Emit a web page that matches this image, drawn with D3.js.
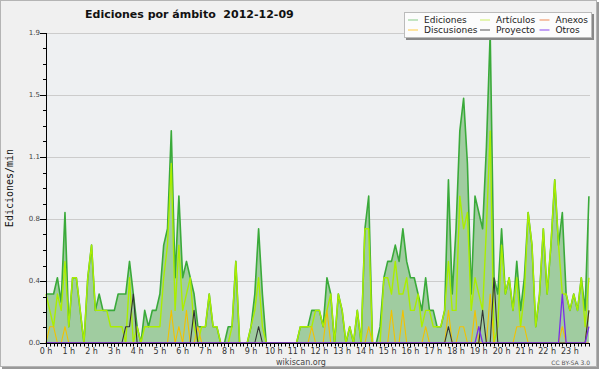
<!DOCTYPE html>
<html>
<head>
<meta charset="utf-8">
<script src="https://cdn.jsdelivr.net/npm/d3@7"></script>
<style>
  body { margin: 0; background: #fff; }
  svg { display: block; }
  text { font-family: "DejaVu Sans", sans-serif; }
</style>
</head>
<body>
<div class="canvas"></div>
<script>
// valores cada 10 minutos (6 por hora), en ediciones/min
const ediciones = [
  0.3, 0.3, 0.3, 0.4, 0.25, 0.8,   // 0 h
  0.1, 0.4, 0.4, 0.2, 0, 0.4,      // 1 h
  0.6, 0.2, 0.3, 0.2, 0.2, 0.2,    // 2 h
  0.2, 0.3, 0.3, 0.3, 0.5, 0.3,    // 3 h
  0.1, 0, 0.2, 0.1, 0.2, 0.2,      // 4 h
  0.3, 0.6, 0.7, 1.3, 0.4, 0.9,    // 5 h
  0.4, 0.5, 0.4, 0.3, 0.1, 0.1,    // 6 h
  0.1, 0.3, 0.1, 0.1, 0, 0,        // 7 h
  0.1, 0.1, 0.5, 0, 0, 0,          // 8 h
  0.1, 0.3, 0.7, 0.3, 0, 0,        // 9 h
  0, 0, 0, 0, 0, 0,                // 10 h
  0, 0.1, 0.1, 0.1, 0.2, 0.2,      // 11 h
  0.2, 0.1, 0.4, 0.3, 0, 0.3,      // 12 h
  0.2, 0, 0.1, 0, 0.2, 0,          // 13 h
  0.7, 0.9, 0, 0, 0.1, 0.4,        // 14 h
  0.5, 0.5, 0.6, 0.5, 0.7, 0.5,    // 15 h
  0.4, 0.4, 0.3, 0.2, 0.4, 0.2,    // 16 h
  0.2, 0.1, 0.1, 0.2, 1.0, 0.3,    // 17 h
  0.7, 1.3, 1.5, 1.1, 0.3, 0.9,    // 18 h
  0.8, 0.7, 1.2, 1.9, 0.4, 0.3,    // 19 h
  0.7, 0.3, 0.4, 0.2, 0.5, 0.2,    // 20 h
  0.4, 0.8, 0.6, 0.1, 0.3, 0.7,    // 21 h
  0.3, 0.6, 1.0, 0.6, 0.8, 0.3,    // 22 h
  0.2, 0.3, 0.2, 0.4, 0.2, 0.9     // 23 h
];
const articulos = [
  0.3, 0.2, 0.1, 0.3, 0.2, 0.5,
  0.1, 0.4, 0.4, 0.2, 0, 0.4,
  0.6, 0.2, 0.2, 0.2, 0.2, 0.1,
  0.1, 0.1, 0.1, 0, 0.4, 0,
  0.1, 0, 0.1, 0.1, 0.1, 0.1,
  0.1, 0.4, 0.6, 1.1, 0.2, 0.6,
  0.2, 0.3, 0.4, 0.1, 0, 0.1,
  0.1, 0.3, 0.1, 0.1, 0, 0,
  0, 0.1, 0.5, 0, 0, 0,
  0.1, 0.2, 0.4, 0.1, 0, 0,
  0, 0, 0, 0, 0, 0,
  0, 0.1, 0.1, 0.1, 0.1, 0.2,
  0.2, 0.1, 0.2, 0.3, 0, 0.3,
  0.2, 0, 0.1, 0, 0.2, 0,
  0.7, 0.7, 0, 0, 0, 0.4,
  0.4, 0.3, 0.5, 0.3, 0.3, 0.4,
  0.2, 0.2, 0.3, 0.1, 0.2, 0.2,
  0.1, 0.1, 0.1, 0.2, 0.5, 0.2,
  0.2, 0.9, 0.7, 0.8, 0.2, 0.4,
  0.3, 0.2, 0.7, 1.3, 0, 0.1,
  0.6, 0.3, 0.4, 0.2, 0.4, 0.1,
  0.3, 0.8, 0.6, 0.1, 0.3, 0.7,
  0.3, 0.6, 1.0, 0.6, 0.3, 0.3,
  0.2, 0.3, 0.2, 0.4, 0.1, 0.4
];
const anexos = [
  0, 0, 0, 0, 0, 0,  0, 0, 0, 0, 0, 0,  0, 0, 0, 0, 0, 0,  0, 0, 0, 0, 0, 0,
  0, 0, 0, 0, 0, 0,  0, 0, 0, 0, 0, 0,  0, 0, 0, 0, 0, 0,  0, 0, 0, 0, 0, 0,
  0, 0, 0, 0, 0, 0,  0, 0, 0, 0, 0, 0,  0, 0, 0, 0, 0, 0,  0, 0, 0, 0, 0, 0,
  0, 0, 0, 0, 0, 0,  0, 0, 0, 0, 0, 0,  0, 0, 0, 0, 0, 0,  0, 0, 0, 0, 0, 0,
  0, 0, 0, 0, 0, 0,  0, 0, 0, 0, 0, 0,  0, 0, 0, 0, 0, 0,  0, 0, 0, 0, 0, 0,
  0, 0, 0, 0, 0, 0,  0, 0, 0, 0, 0, 0,  0, 0, 0, 0, 0, 0,  0, 0, 0, 0, 0, 0
];
const discusiones = [
  0, 0.1, 0.1, 0, 0, 0.1,  0, 0, 0, 0, 0, 0,  0, 0, 0, 0, 0, 0,  0, 0, 0, 0, 0, 0,
  0, 0, 0, 0, 0, 0,  0, 0, 0, 0.2, 0, 0.1,  0, 0.2, 0, 0, 0.1, 0,  0, 0, 0, 0, 0, 0,
  0, 0, 0, 0, 0, 0,  0, 0, 0, 0, 0, 0,  0, 0, 0, 0, 0, 0,  0, 0, 0, 0, 0.1, 0,
  0, 0, 0.2, 0, 0, 0,  0, 0, 0, 0, 0, 0,  0, 0.1, 0, 0, 0, 0,  0, 0.2, 0, 0, 0.2, 0,
  0, 0, 0, 0, 0.1, 0,  0, 0, 0, 0, 0.2, 0,  0, 0.1, 0.1, 0, 0, 0.2,  0, 0, 0, 0.3, 0, 0,
  0, 0, 0, 0, 0.1, 0.1,  0.1, 0, 0, 0, 0, 0,  0, 0, 0, 0, 0.1, 0,  0, 0, 0, 0, 0, 0.2
];
const proyecto = [
  0, 0, 0, 0, 0, 0,  0, 0, 0, 0, 0, 0,  0, 0, 0, 0, 0, 0,  0, 0, 0, 0.1, 0.1, 0.3,
  0, 0, 0, 0, 0, 0,  0, 0, 0, 0, 0, 0,  0, 0, 0, 0.2, 0, 0,  0, 0, 0, 0, 0, 0,
  0, 0, 0, 0, 0, 0,  0, 0, 0.1, 0, 0, 0,  0, 0, 0, 0, 0, 0,  0, 0, 0, 0, 0, 0,
  0, 0, 0, 0, 0, 0,  0, 0, 0, 0, 0, 0,  0, 0, 0, 0, 0, 0,  0, 0, 0, 0, 0, 0,
  0, 0, 0, 0, 0, 0,  0, 0, 0, 0, 0.1, 0,  0, 0, 0, 0, 0, 0,  0, 0.2, 0, 0, 0.4, 0,
  0, 0, 0, 0, 0, 0,  0, 0, 0, 0, 0, 0,  0, 0, 0, 0, 0, 0,  0, 0, 0, 0, 0, 0.2
];
const otros = [
  0, 0, 0, 0, 0, 0,  0, 0, 0, 0, 0, 0,  0, 0, 0, 0, 0, 0,  0, 0, 0, 0, 0, 0,
  0, 0, 0, 0, 0, 0,  0, 0, 0, 0, 0, 0,  0, 0, 0, 0, 0, 0,  0, 0, 0, 0, 0, 0,
  0, 0, 0, 0, 0, 0,  0, 0, 0, 0, 0, 0,  0, 0, 0, 0, 0, 0,  0, 0, 0, 0, 0, 0,
  0, 0, 0, 0, 0, 0,  0, 0, 0, 0, 0, 0,  0, 0, 0, 0, 0, 0,  0, 0, 0, 0, 0, 0,
  0, 0, 0, 0, 0, 0,  0, 0, 0, 0, 0, 0,  0, 0, 0, 0, 0, 0,  0.1, 0, 0, 0, 0, 0,
  0, 0, 0, 0, 0, 0,  0, 0, 0, 0, 0, 0,  0, 0, 0, 0, 0.3, 0,  0, 0, 0, 0, 0, 0.1
];

const horas = d3.range(24);                       // etiquetas "0 h" .. "23 h"
const yTicks = [0, 0.38, 0.76, 1.14, 1.52, 1.9];  // etiquetas 0.0 .. 1.9

// series en orden de dibujo (la primera lleva relleno)
const series = [
  { name: 'Ediciones', values: ediciones, stroke: '#3aaa3a', legend: '#88cc88', width: 1.6 },
  { name: 'Artículos', values: articulos, stroke: '#aaee00', legend: '#ccee66', width: 1.4 },
  { name: 'Anexos', values: anexos, stroke: '#ee7744', legend: '#ee8855', width: 1 },
  { name: 'Discusiones', values: discusiones, stroke: '#f2c200', legend: '#ffcc44', width: 1.1 },
  { name: 'Proyecto', values: proyecto, stroke: '#333333', legend: '#555555', width: 1.1 },
  { name: 'Otros', values: otros, stroke: '#7a2ee6', legend: '#8844ee', width: 1.3 }
];

const dims = { width: 600, height: 370 };
const plot = { left: 46, right: 590, top: 33, bottom: 343 };

const svg = d3.select('.canvas')
  .append('svg')
  .attr('width', dims.width)
  .attr('height', dims.height);

// marco con sombra
svg.append('rect').attr('x', 2).attr('y', 2).attr('width', 597).attr('height', 367).attr('fill', '#999');
svg.append('rect').attr('x', 0.5).attr('y', 0.5).attr('width', 596).attr('height', 366)
  .attr('fill', '#f0f0f0').attr('stroke', '#b4b4b4');

const x = d3.scaleLinear().domain([0, 24]).range([plot.left, 592.7]);
const y = d3.scaleLinear().domain([0, 1.9]).range([plot.bottom, plot.top]);

svg.append('rect')
  .attr('x', plot.left).attr('y', plot.top)
  .attr('width', plot.right - plot.left).attr('height', plot.bottom - plot.top)
  .attr('fill', '#eef0f2');

// lineas de la grilla
svg.append('g').selectAll('line')
  .data(yTicks.slice(1))
  .enter().append('line')
  .attr('x1', plot.left).attr('x2', plot.right)
  .attr('y1', d => Math.round(y(d)) + 0.5).attr('y2', d => Math.round(y(d)) + 0.5)
  .attr('stroke', '#cccccc');

const t = (d, i) => x(i / 6);

const area = d3.area().x(t).y0(y(0)).y1(d => y(d));
svg.append('path')
  .attr('d', area(ediciones))
  .attr('fill', '#a0cca0');

const line = d3.line().x(t).y(d => y(d));
svg.append('g').selectAll('path')
  .data(series)
  .enter().append('path')
  .attr('d', d => line(d.values))
  .attr('fill', 'none')
  .attr('stroke', d => d.stroke)
  .attr('stroke-width', d => d.width)
  .attr('stroke-linejoin', 'round');

// eje y
const yAxis = svg.append('g');
yAxis.append('line')
  .attr('x1', plot.left + 0.5).attr('x2', plot.left + 0.5)
  .attr('y1', plot.top).attr('y2', plot.bottom + 0.5)
  .attr('stroke', '#000');
const minorY = d3.range(0, 20).map(k => k * 0.095).filter((v, k) => k % 4 !== 0);
yAxis.selectAll('.minor')
  .data(minorY)
  .enter().append('line')
  .attr('x1', plot.left - 3).attr('x2', plot.left)
  .attr('y1', d => Math.round(y(d)) + 0.5).attr('y2', d => Math.round(y(d)) + 0.5)
  .attr('stroke', '#000');
yAxis.selectAll('.major')
  .data(yTicks)
  .enter().append('line')
  .attr('x1', plot.left - 6).attr('x2', plot.left)
  .attr('y1', d => Math.round(y(d)) + 0.5).attr('y2', d => Math.round(y(d)) + 0.5)
  .attr('stroke', '#000');
yAxis.selectAll('text')
  .data(yTicks)
  .enter().append('text')
  .attr('x', plot.left - 6).attr('y', d => y(d) + 2)
  .attr('text-anchor', 'end')
  .attr('font-size', 7)
  .attr('fill', '#444')
  .text(d => d3.format('.1f')(d));

// eje x
const xAxis = svg.append('g');
xAxis.append('line')
  .attr('x1', plot.left).attr('x2', plot.right)
  .attr('y1', plot.bottom + 0.5).attr('y2', plot.bottom + 0.5)
  .attr('stroke', '#000');
xAxis.selectAll('.tick')
  .data(d3.range(144))
  .enter().append('line')
  .attr('x1', d => Math.round(x(d / 6)) + 0.5).attr('x2', d => Math.round(x(d / 6)) + 0.5)
  .attr('y1', plot.bottom).attr('y2', d => plot.bottom + (d % 6 === 0 ? 4 : 3.5))
  .attr('stroke', '#000');
xAxis.selectAll('text')
  .data(horas)
  .enter().append('text')
  .attr('x', d => x(d)).attr('y', 353.5)
  .attr('text-anchor', 'middle')
  .attr('font-size', 8)
  .attr('fill', '#333')
  .text(d => d + ' h');

// textos
svg.append('text')
  .attr('x', 85).attr('y', 17.5)
  .attr('font-size', 11).attr('font-weight', 'bold')
  .attr('fill', '#111')
  .text('Ediciones por ámbito  2012-12-09')
  .style('white-space', 'pre');

svg.append('text')
  .attr('transform', 'translate(13,188) rotate(-90)')
  .attr('text-anchor', 'middle')
  .style('font-family', '"DejaVu Sans Mono", monospace')
  .attr('font-size', 10)
  .attr('fill', '#111')
  .text('Ediciones/min');

svg.append('text')
  .attr('x', 301).attr('y', 364.5)
  .attr('text-anchor', 'middle')
  .attr('font-size', 8).attr('fill', '#444')
  .text('wikiscan.org');

svg.append('text')
  .attr('x', 590).attr('y', 365)
  .attr('text-anchor', 'end')
  .attr('font-size', 6).attr('fill', '#555')
  .text('CC BY-SA 3.0');

// leyenda
const legend = svg.append('g');
legend.append('rect').attr('x', 406).attr('y', 14).attr('width', 188).attr('height', 26).attr('fill', '#888');
legend.append('rect').attr('x', 404.5).attr('y', 12.5).attr('width', 187).attr('height', 25)
  .attr('fill', '#fcfcfc').attr('stroke', '#bbb');

const cols = [408, 480, 539.5];
const rows = [19.5, 29.5];
const item = legend.selectAll('.item')
  .data(series)
  .enter().append('g')
  .attr('transform', (d, i) => `translate(${cols[i % 3]}, ${rows[Math.floor(i / 3)]})`);
item.append('line')
  .attr('x1', 0).attr('x2', 10).attr('y1', 0.5).attr('y2', 0.5)
  .attr('stroke', d => d.legend);
item.append('text')
  .attr('x', 16).attr('y', 3.3)
  .attr('font-size', 9).attr('fill', '#222')
  .text(d => d.name);
</script>
</body>
</html>
